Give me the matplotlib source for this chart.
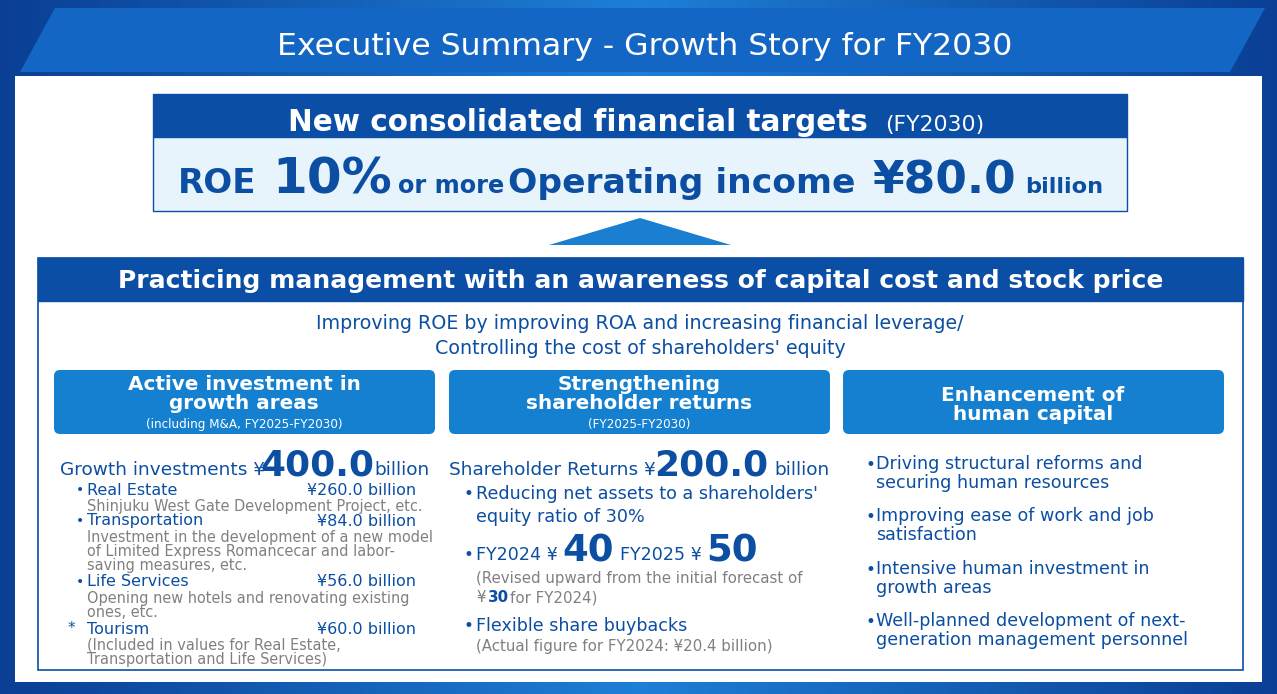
import matplotlib
matplotlib.use("Agg")
import matplotlib.pyplot as plt
from matplotlib.patches import Rectangle, Polygon, FancyBboxPatch
from matplotlib.colors import LinearSegmentedColormap
import numpy as np

title = "Executive Summary - Growth Story for FY2030"
segments = ["Real Estate", "Transportation", "Life Services", "Tourism"]
segment_values = [260.0, 84.0, 56.0, 60.0]
segment_notes = ["Shinjuku West Gate Development Project, etc.",
                 "Investment in the development of a new model\nof Limited Express Romancecar and labor-\nsaving measures, etc.",
                 "Opening new hotels and renovating existing\nones, etc.",
                 "(Included in values for Real Estate,\nTransportation and Life Services)"]
growth_total = 400.0
returns_total = 200.0
dividends = [("FY2024", 40), ("FY2025", 50)]
buyback_2024 = 20.4
human_items = ["Driving structural reforms and\nsecuring human resources",
               "Improving ease of work and job\nsatisfaction",
               "Intensive human investment in\ngrowth areas",
               "Well-planned development of next-\ngeneration management personnel"]

W, H = 1277, 694
fig = plt.figure(figsize=(W/100, H/100), dpi=100)
ax = fig.add_axes([0, 0, 1, 1])
ax.set_xlim(0, W); ax.set_ylim(H, 0); ax.axis("off")

DARK = "#0a4ea6"; MID = "#1580d0"; TXT = "#0b4ea2"; GRAY = "#808080"
grad = np.linspace(0, 1, 256).reshape(1, -1)
cm = LinearSegmentedColormap.from_list("g", ["#0a3f95", "#1e7fd6", "#0a3f95"])
ax.imshow(np.vstack([grad]*2), cmap=cm, extent=(0, W, H, 0), aspect="auto", zorder=0)
ax.add_patch(Polygon([(20, 72), (55, 8), (1265, 8), (1230, 72)], closed=True, fc="#1466c4", ec="none", zorder=1))
ax.add_patch(Rectangle((15, 76), 1247, 606, fc="white", ec="none", zorder=1))

def t(x, y, s, px, c=TXT, w="normal", ha="left", va="baseline", **kw):
    ax.text(x, y, s, fontsize=px*0.72, color=c, fontweight=w, ha=ha, va=va, zorder=5, **kw)

t(645, 46, title, 31.5, c="white", ha="center", va="center")

# box 1
ax.add_patch(Rectangle((153, 94), 974, 43, fc=DARK, ec=DARK, zorder=2))
ax.add_patch(Rectangle((153, 137), 974, 74, fc="#e8f4fc", ec=DARK, lw=1, zorder=2))
t(288, 131, "New consolidated financial targets", 29.5, c="white", w="bold")
t(885, 131, "(FY2030)", 22, c="white")
t(178, 193, "ROE", 34, w="bold")
t(272, 193, "10%", 50, w="bold")
t(398, 193, "or more", 24, w="bold")
t(508, 193, "Operating income", 34.5, w="bold")
t(872, 193, "¥80.0", 45.5, w="bold")
t(1025, 193, "billion", 22.5, w="bold")

ax.add_patch(Polygon([(549, 245), (731, 245), (640, 218)], closed=True, fc="#1a7fd0", ec="none", zorder=2))

# box 2
ax.add_patch(Rectangle((38, 258), 1205, 412, fc="white", ec=DARK, lw=1.2, zorder=2))
ax.add_patch(Rectangle((38, 258), 1205, 43, fc=DARK, ec=DARK, zorder=2))
t(641, 281, "Practicing management with an awareness of capital cost and stock price", 25, c="white", w="bold", ha="center", va="center")
t(640, 323, "Improving ROE by improving ROA and increasing financial leverage/", 19, ha="center", va="center")
t(640, 348, "Controlling the cost of shareholders' equity", 19, ha="center", va="center")

heads = [("Active investment in\ngrowth areas", "(including M&A, FY2025-FY2030)"),
         ("Strengthening\nshareholder returns", "(FY2025-FY2030)"),
         ("Enhancement of\nhuman capital", None)]
for x0, (h, sub) in zip([54, 449, 843], heads):
    ax.add_patch(FancyBboxPatch((x0, 370), 381, 64, boxstyle="round,pad=0,rounding_size=6", fc=MID, ec="none", zorder=2))
    cx = x0 + 190
    if sub:
        t(cx, 394, h, 20, c="white", w="bold", ha="center", va="center", linespacing=1.0)
        t(cx, 424, sub, 12, c="white", ha="center", va="center")
    else:
        t(cx, 405, h, 20, c="white", w="bold", ha="center", va="center", linespacing=1.0)

# column 1
t(60, 475, "Growth investments ¥", 18.5)
t(260, 475, f"{growth_total:.1f}", 36, w="bold")
t(374, 475, "billion", 18.5)
ys = [490, 521, 582, 629]
for name, val, note, y in zip(segments, segment_values, segment_notes, ys):
    if name == "Tourism":
        t(68, y, "*", 15, va="center")
    else:
        t(76, y, "•", 14, va="center")
    t(87, y, name, 16, va="center")
    t(416, y, f"¥{val:.1f} billion", 16, ha="right", va="center")
    t(87, y + 9, note, 14.5, c=GRAY, va="top", linespacing=0.93)

# column 2
t(449, 475, "Shareholder Returns ¥", 18.5)
t(654, 475, f"{returns_total:.1f}", 36, w="bold")
t(774, 475, "billion", 18.5)
t(464, 494, "•", 17, va="center")
t(476, 494, "Reducing net assets to a shareholders'", 17.5, va="center")
t(476, 517, "equity ratio of 30%", 17.5, va="center")
t(464, 555, "•", 17, va="center")
t(476, 560, f"{dividends[0][0]} ¥", 17.5)
t(562, 562, f"{dividends[0][1]}", 37, w="bold")
t(620, 560, f"{dividends[1][0]} ¥", 17.5)
t(706, 562, f"{dividends[1][1]}", 37, w="bold")
t(476, 578, "(Revised upward from the initial forecast of", 15, c=GRAY, va="center")
t(476, 598, "¥", 15, c=GRAY, va="center")
t(488, 598, "30", 15, w="bold", va="center")
t(510, 598, "for FY2024)", 15, c=GRAY, va="center")
t(464, 626, "•", 17, va="center")
t(476, 626, "Flexible share buybacks", 17.5, va="center")
t(476, 647, f"(Actual figure for FY2024: ¥{buyback_2024} billion)", 15, c=GRAY, va="center")

# column 3
for item, y in zip(human_items, [455, 507, 560, 612]):
    t(866, y + 10, "•", 17, va="center")
    t(876, y, item, 17.5, va="top", linespacing=1.05)

plt.savefig("out.png", dpi=100)
